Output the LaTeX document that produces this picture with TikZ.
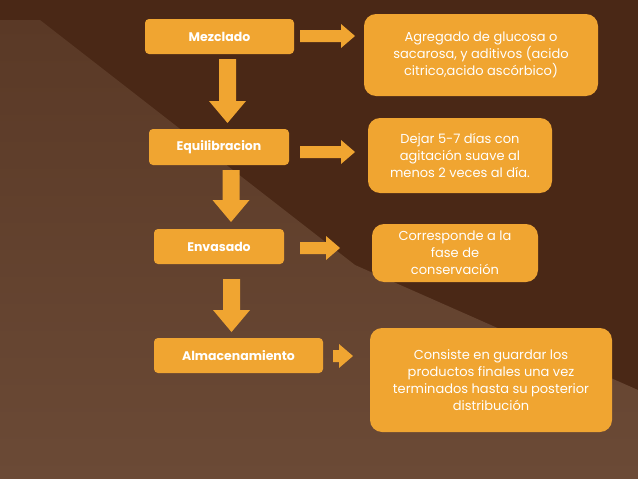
\documentclass[tikz,border=0pt]{standalone}
\usepackage{fontspec}
\setmainfont{Poppins}
\definecolor{bgd}{HTML}{4A2816}
\definecolor{bgl}{HTML}{6B4A36}
\definecolor{bgm}{HTML}{5A3926}
\definecolor{org}{HTML}{F0A531}
\tikzset{x=1pt,y=-1pt,
 lbox/.style={fill=org,rounded corners=4pt,text=white,font=\bfseries\fontsize{12.5}{14}\selectfont,inner sep=0pt,align=center},
 rbox/.style={fill=org,rounded corners=12pt,text=white,font=\fontsize{13}{17}\selectfont,inner sep=0pt,align=center},
 arr/.style={fill=org,draw=none}}
\begin{document}
\begin{tikzpicture}
\fill[bgd] (0,0) rectangle (638,479);
\shade[top color=bgm,bottom color=bgl] (40,20) -- (355,265) -- (638,390) -- (638,479) -- (0,479) -- (0,20) -- cycle;
\useasboundingbox (0,0) rectangle (638,479);
% left boxes
\node[lbox,minimum width=149pt,minimum height=35pt] (m) at (219.5,36.5) {Mezclado};
\node[lbox,minimum width=140pt,minimum height=36pt] (e) at (219,147) {Equilibracion};
\node[lbox,minimum width=130pt,minimum height=35pt] (v) at (219,246.5) {Envasado};
\node[lbox,minimum width=169pt,minimum height=35pt] (a) at (238.5,355.5) {Almacenamiento};
% right boxes
\node[rbox,minimum width=234pt,minimum height=82pt] (t1) at (481,55) {Agregado de glucosa  o\\sacarosa, y aditivos (acido\\citrico,acido ascórbico)};
\node[rbox,minimum width=184pt,minimum height=75pt] (t2) at (460,155.5) {Dejar 5-7 días con\\agitación suave al\\menos 2 veces al día.};
\node[rbox,minimum width=166pt,minimum height=58pt] (t3) at (455,253) {Corresponde a la\\fase de\\conservación};
\node[rbox,minimum width=242pt,minimum height=104pt] (t4) at (491,380) {Consiste en guardar los\\productos finales una vez\\terminados hasta su posterior\\distribución};
% down arrows
\coordinate (d1) at (227.5,59); \coordinate (d2) at (231,170); \coordinate (d3) at (231.5,279);
\foreach \c/\l in {d1/64,d2/52,d3/53}{
 \fill[arr] ([xshift=-8.5pt]\c) -- ++(17,0) -- ++(0,\l-22) -- ++(10,0) -- ([yshift=-\l pt]\c) -- ([xshift=-18.5pt,yshift=-\l pt+22pt]\c) -- ++(10,0) -- cycle;}
% right arrows
\foreach \x/\y/\w in {300/36/55, 300/152/55, 300/248/40, 333/356/20}{
 \fill[arr] (\x,\y-6) -- (\x+\w-14,\y-6) -- (\x+\w-14,\y-12) -- (\x+\w,\y) -- (\x+\w-14,\y+12) -- (\x+\w-14,\y+6) -- (\x,\y+6) -- cycle;}
\end{tikzpicture}
\end{document}
